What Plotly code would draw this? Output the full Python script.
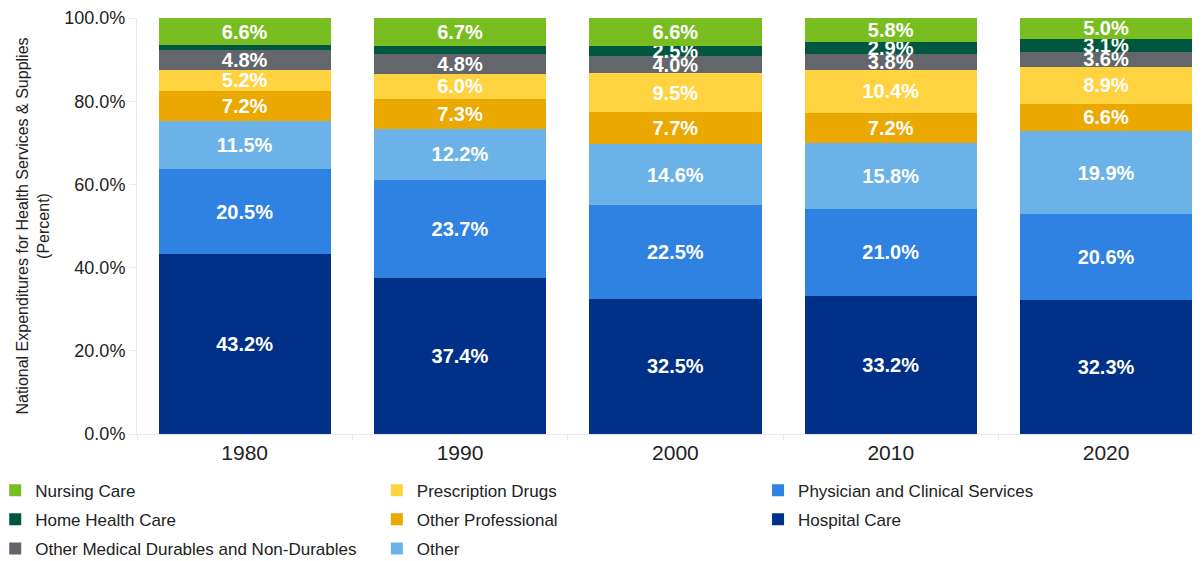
import plotly.graph_objects as go

years = ["1980", "1990", "2000", "2010", "2020"]

# bottom to top of each stack
hospital_care = [43.2, 37.4, 32.5, 33.2, 32.3]
physician_clinical = [20.5, 23.7, 22.5, 21.0, 20.6]
other = [11.5, 12.2, 14.6, 15.8, 19.9]
other_professional = [7.2, 7.3, 7.7, 7.2, 6.6]
prescription_drugs = [5.2, 6.0, 9.5, 10.4, 8.9]
other_med_durables = [4.8, 4.8, 4.0, 3.8, 3.6]
home_health = [1.0, 1.9, 2.5, 2.9, 3.1]
nursing_care = [6.6, 6.7, 6.6, 5.8, 5.0]

y_ticks = [0, 20, 40, 60, 80, 100]

series = [
    ("Hospital Care", hospital_care, "#003087", "legend3"),
    ("Physician and Clinical Services", physician_clinical, "#2F81E2", "legend3"),
    ("Other", other, "#6AB2E7", "legend2"),
    ("Other Professional", other_professional, "#EAA800", "legend2"),
    ("Prescription Drugs", prescription_drugs, "#FFD23F", "legend2"),
    ("Other Medical Durables and Non-Durables", other_med_durables, "#63666A", "legend"),
    ("Home Health Care", home_health, "#00573F", "legend"),
    ("Nursing Care", nursing_care, "#78BE20", "legend"),
]

font = "Liberation Sans, Arial, sans-serif"

fig = go.Figure()
for i, (name, vals, color, lg) in enumerate(series):
    fig.add_trace(go.Bar(
        x=years, y=vals, name=name, marker_color=color, marker_line_width=0,
        text=[f"{v:.1f}%" if v >= 2 else "" for v in vals],
        textposition="inside", insidetextanchor="middle", textangle=0,
        textfont=dict(family=font, size=20, color="white", weight="bold"),
        legend=lg, legendgroup=name, legendrank=100 - i,
    ))

# three column legends under the plot
leg = dict(orientation="v", xanchor="left", yanchor="top", y=-0.093,
           traceorder="grouped", tracegroupgap=4,
           font=dict(family=font, size=17, color="#222"), bgcolor="rgba(0,0,0,0)")

# the page body adds 8px on top and left, so margins are offset by that
fig.update_layout(
    barmode="stack", bargap=0.2,
    width=1203, height=561,
    margin=dict(l=129, r=8, t=10, b=135, autoexpand=False),
    plot_bgcolor="white", paper_bgcolor="white",
    uniformtext=dict(minsize=20, mode="show"),
    font=dict(family=font, color="#222"),
    legend=dict(leg, x=-0.133),
    legend2=dict(leg, x=0.225),
    legend3=dict(leg, x=0.5826),
)
fig.update_xaxes(range=[-0.5, 4.45], tickfont=dict(size=21, color="#222"),
                 showline=True, linecolor="#e8e8e8", ticks="outside",
                 tickson="boundaries", ticklen=5, tickcolor="#e8e8e8", showgrid=False)
fig.update_yaxes(range=[0, 100], tickvals=y_ticks,
                 ticktext=[f"{v:.1f}%" for v in y_ticks],
                 tickfont=dict(size=18, color="#222"),
                 showline=True, linecolor="#e8e8e8", ticks="outside", ticklen=7,
                 tickcolor="#e8e8e8", showgrid=False, zeroline=False,
                 title=dict(text="National Expenditures for Health Services & Supplies<br>(Percent)",
                            font=dict(size=16, color="#222"), standoff=10))

fig.write_html("out.html")
